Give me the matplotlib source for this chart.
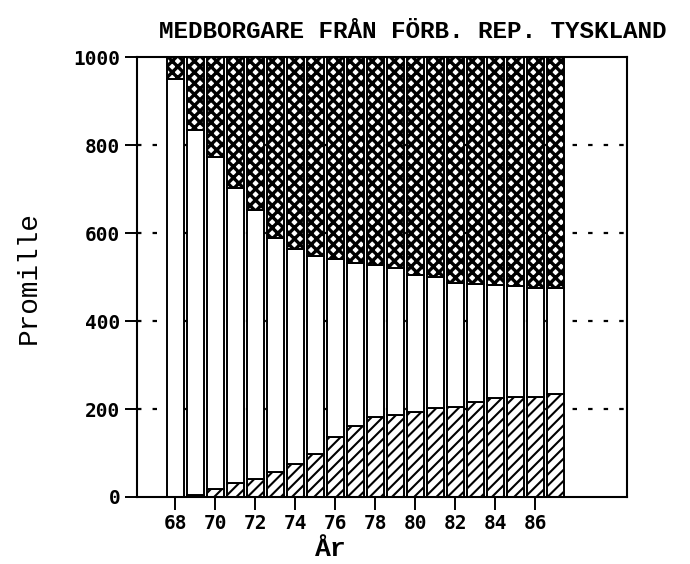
# -*- coding: utf-8 -*-
"""
Medborgare från Förb. Rep. Tyskland, fördelning i promille per år
"""
import matplotlib
matplotlib.use("Agg")
import matplotlib.pyplot as plt

#%% Data #####################################################################

years = list(range(68, 88))
year_ticks = list(range(68, 87, 2))

# promille per year, bottom / middle / top part of each bar
lower = [0, 5, 18, 32, 42, 57, 76, 97, 136, 161,
         182, 186, 193, 202, 205, 216, 225, 227, 227, 234]
middle = [950, 829, 755, 670, 610, 532, 488, 451, 405, 371,
          345, 334, 312, 298, 281, 268, 257, 253, 248, 241]
upper = [50, 166, 227, 298, 348, 411, 436, 452, 459, 468,
         473, 480, 495, 500, 514, 516, 518, 520, 525, 525]

#%% Plot #####################################################################

plt.rcParams['hatch.color'] = 'black'

fig = plt.figure(figsize=(6.9, 5.64), dpi=100)
ax = fig.add_axes([0.1986, 0.1188, 0.7101, 0.7801])

# dotted guide lines behind the bars
for y in [200, 400, 600, 800]:
    ax.axhline(y, color='black', lw=1.6, ls=(0, (2, 5)), zorder=0)

w = 0.85
plt.rcParams['hatch.linewidth'] = 1.5
low_bars = ax.bar(years, lower, w, color='white', edgecolor='black', lw=1.4,
                  hatch='///', zorder=2)
ax.bar(years, middle, w, bottom=lower, color='white', edgecolor='black',
       lw=1.4, zorder=2)
bottom2 = [a + b for a, b in zip(lower, middle)]
plt.rcParams['hatch.linewidth'] = 2.4
top_bars = ax.bar(years, upper, w, bottom=bottom2, color='white',
                  edgecolor='black', lw=1.4, hatch='xxx', zorder=2)

# heavier cross hatch on top, thinner diagonal hatch at the bottom
for b in top_bars:
    if hasattr(b, 'set_hatch_linewidth'):
        b.set_hatch_linewidth(2.4)
for b in low_bars:
    if hasattr(b, 'set_hatch_linewidth'):
        b.set_hatch_linewidth(1.5)

ax.set_xlim(66.1, 90.6)
ax.set_ylim(0, 1000)
ax.set_xticks(year_ticks)
ax.set_yticks(range(0, 1001, 200))

tick_font = dict(family='DejaVu Sans Mono', weight='bold', size=14)
ax.set_xticklabels([str(y) for y in year_ticks], **tick_font)
ax.set_yticklabels([str(v) for v in range(0, 1001, 200)], **tick_font)
ax.tick_params(direction='out', length=9, width=1.4, pad=3)

for s in ax.spines.values():
    s.set_linewidth(1.5)

ax.set_ylabel('Promille', family='Liberation Mono', size=20)
ax.yaxis.set_label_coords(-0.194, 0.5)
ax.set_xlabel('År', family='Liberation Mono', weight='bold', size=19)
ax.xaxis.set_label_coords(0.396, -0.09)

fig.text(0.598, 0.945, 'MEDBORGARE FRÅN FÖRB. REP. TYSKLAND',
         family='Liberation Mono', weight='bold', size=17.5,
         ha='center', va='center')

fig.savefig('out.png', dpi=100)
